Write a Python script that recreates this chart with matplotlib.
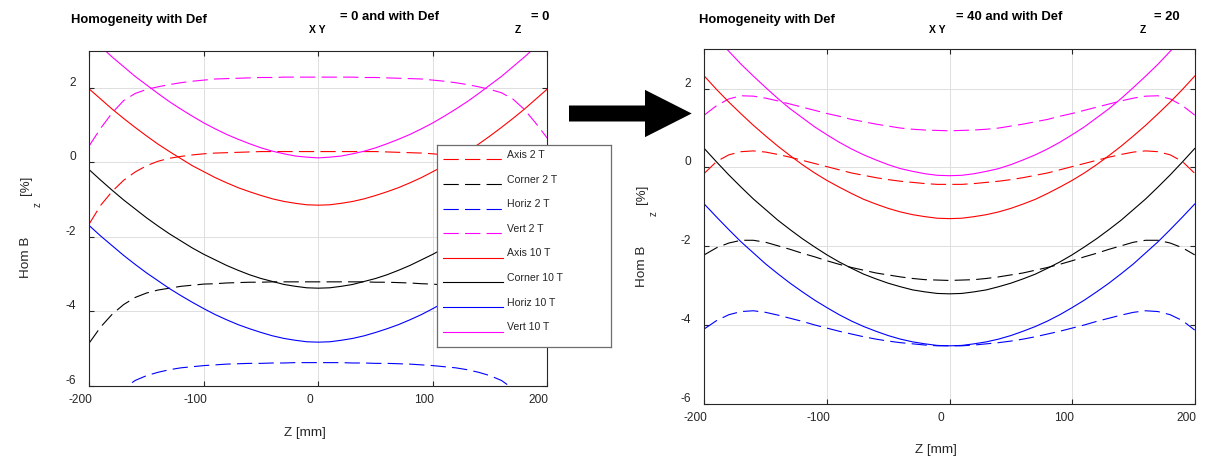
"""Field homogeneity along Z for 2 T and 10 T, before and after deformation."""
from __future__ import annotations

import matplotlib

matplotlib.use("Agg")
import matplotlib.pyplot as plt
from matplotlib.patches import FancyArrow
from matplotlib.transforms import ScaledTranslation

plt.rcParams["font.family"] = ["Liberation Sans", "DejaVu Sans"]
plt.rcParams["axes.unicode_minus"] = False
plt.rcParams["lines.scale_dashes"] = False

W, H, DPI = 1206, 457, 100
INK = "#262626"

Z_MM = [-200, -190, -180, -170, -160, -150, -140, -130, -120, -110, -100, -90, -80, -70, -60, -50,
        -40, -30, -20, -10, 0, 10, 20, 30, 40, 50, 60, 70, 80, 90, 100, 110, 120, 130, 140, 150,
        160, 170, 180, 190, 200]
X_TICKS = [-200, -100, 0, 100, 200]
Y_TICKS = [-6, -4, -2, 0, 2]

LABELS = ["Axis 2 T", "Corner 2 T", "Horiz 2 T", "Vert 2 T",
          "Axis 10 T", "Corner 10 T", "Horiz 10 T", "Vert 10 T"]
COLORS = ["#ff0000", "#000000", "#0000ff", "#ff00ff"] * 2
DASHED = [True] * 4 + [False] * 4

# Def_XY = 0, Def_Z = 0
AXIS_2T_A = [-1.65, -1.15, -0.78, -0.48, -0.26, -0.09, 0.03, 0.11, 0.16, 0.20, 0.23, 0.25, 0.26, 0.27,
             0.28, 0.29, 0.29, 0.29, 0.29, 0.29, 0.29, 0.29, 0.29, 0.29, 0.29, 0.29, 0.28, 0.27,
             0.26, 0.25, 0.23, 0.20, 0.16, 0.11, 0.03, -0.09, -0.26, -0.48, -0.78, -1.15, -1.65]
CORNER_2T_A = [-4.85, -4.42, -4.08, -3.82, -3.63, -3.51, -3.43, -3.38, -3.33, -3.30, -3.27, -3.26, -3.24,
               -3.23, -3.22, -3.22, -3.21, -3.21, -3.21, -3.21, -3.21, -3.21, -3.21, -3.21, -3.21, -3.22,
               -3.22, -3.23, -3.24, -3.26, -3.27, -3.30, -3.33, -3.38, -3.43, -3.51, -3.63, -3.82,
               -4.08, -4.42, -4.85]
HORIZ_2T_A = [-7.20, -6.75, -6.38, -6.08, -5.86, -5.73, -5.64, -5.57, -5.52, -5.49, -5.46, -5.44, -5.42,
              -5.41, -5.40, -5.40, -5.39, -5.39, -5.38, -5.38, -5.38, -5.38, -5.38, -5.39, -5.39, -5.40,
              -5.40, -5.41, -5.42, -5.44, -5.46, -5.49, -5.52, -5.57, -5.64, -5.73, -5.86, -6.08,
              -6.38, -6.75, -7.20]
VERT_2T_A = [0.45, 0.92, 1.33, 1.66, 1.85, 1.96, 2.03, 2.09, 2.14, 2.18, 2.21, 2.24, 2.25, 2.26,
             2.27, 2.28, 2.28, 2.29, 2.29, 2.29, 2.29, 2.29, 2.29, 2.29, 2.28, 2.28, 2.27, 2.26,
             2.25, 2.24, 2.21, 2.18, 2.14, 2.09, 2.03, 1.96, 1.87, 1.70, 1.42, 1.05, 0.65]
AXIS_10T_A = [1.97, 1.70, 1.43, 1.18, 0.94, 0.71, 0.49, 0.29, 0.10, -0.09, -0.25, -0.41, -0.55, -0.68,
              -0.79, -0.89, -0.98, -1.05, -1.10, -1.14, -1.15, -1.14, -1.10, -1.05, -0.98, -0.89,
              -0.79, -0.68, -0.55, -0.41, -0.25, -0.09, 0.10, 0.29, 0.49, 0.71, 0.94, 1.18, 1.43,
              1.70, 1.97]
CORNER_10T_A = [-0.20, -0.48, -0.75, -1.01, -1.25, -1.49, -1.71, -1.92, -2.11, -2.30, -2.47, -2.62,
                -2.77, -2.90, -3.02, -3.12, -3.20, -3.28, -3.33, -3.37, -3.38, -3.37, -3.33, -3.28,
                -3.20, -3.12, -3.02, -2.90, -2.77, -2.62, -2.47, -2.30, -2.11, -1.92, -1.71, -1.49,
                -1.25, -1.01, -0.75, -0.48, -0.20]
HORIZ_10T_A = [-1.70, -1.98, -2.24, -2.50, -2.74, -2.97, -3.18, -3.39, -3.58, -3.76, -3.93, -4.09,
               -4.23, -4.36, -4.47, -4.57, -4.66, -4.73, -4.78, -4.82, -4.83, -4.82, -4.78, -4.73,
               -4.66, -4.57, -4.47, -4.36, -4.23, -4.09, -3.93, -3.76, -3.58, -3.39, -3.18, -2.97,
               -2.74, -2.50, -2.24, -1.98, -1.70]
VERT_10T_A = [3.40, 3.11, 2.83, 2.57, 2.31, 2.08, 1.85, 1.63, 1.43, 1.24, 1.06, 0.90, 0.75, 0.62,
              0.50, 0.39, 0.30, 0.23, 0.17, 0.14, 0.12, 0.14, 0.17, 0.23, 0.30, 0.39, 0.50, 0.62,
              0.75, 0.90, 1.06, 1.24, 1.43, 1.63, 1.85, 2.08, 2.31, 2.57, 2.83, 3.11, 3.40]

# Def_XY = 40, Def_Z = 20
AXIS_2T_B = [-0.15, 0.15, 0.32, 0.40, 0.42, 0.39, 0.33, 0.26, 0.18, 0.10, 0.02, -0.06, -0.14, -0.20,
             -0.26, -0.31, -0.35, -0.38, -0.41, -0.43, -0.43, -0.43, -0.41, -0.38, -0.35, -0.31,
             -0.26, -0.20, -0.14, -0.06, 0.02, 0.10, 0.18, 0.26, 0.33, 0.39, 0.42, 0.40, 0.32,
             0.15, -0.15]
CORNER_2T_B = [-2.22, -2.04, -1.92, -1.85, -1.85, -1.90, -1.99, -2.08, -2.18, -2.27, -2.37, -2.46,
               -2.54, -2.61, -2.68, -2.73, -2.78, -2.82, -2.85, -2.86, -2.87, -2.86, -2.85, -2.82,
               -2.78, -2.73, -2.68, -2.61, -2.54, -2.46, -2.37, -2.27, -2.18, -2.08, -1.99, -1.90,
               -1.85, -1.85, -1.92, -2.04, -2.22]
HORIZ_2T_B = [-4.10, -3.89, -3.74, -3.66, -3.64, -3.68, -3.75, -3.83, -3.91, -4.00, -4.08, -4.16,
              -4.23, -4.30, -4.36, -4.41, -4.45, -4.48, -4.51, -4.53, -4.53, -4.53, -4.51, -4.48,
              -4.45, -4.41, -4.36, -4.30, -4.23, -4.16, -4.08, -4.00, -3.91, -3.83, -3.75, -3.68,
              -3.64, -3.66, -3.74, -3.89, -4.13]
VERT_2T_B = [1.33, 1.57, 1.74, 1.82, 1.81, 1.76, 1.69, 1.61, 1.53, 1.45, 1.37, 1.30, 1.22, 1.16,
             1.10, 1.05, 1.00, 0.97, 0.95, 0.94, 0.93, 0.94, 0.95, 0.97, 1.00, 1.05, 1.10, 1.16,
             1.22, 1.30, 1.37, 1.45, 1.53, 1.61, 1.69, 1.76, 1.81, 1.82, 1.74, 1.57, 1.33]
AXIS_10T_B = [2.32, 1.98, 1.66, 1.36, 1.07, 0.80, 0.54, 0.30, 0.07, -0.14, -0.33, -0.50, -0.66, -0.81,
              -0.93, -1.04, -1.13, -1.20, -1.25, -1.29, -1.30, -1.29, -1.25, -1.20, -1.13, -1.04,
              -0.93, -0.81, -0.66, -0.50, -0.33, -0.14, 0.07, 0.30, 0.54, 0.80, 1.07, 1.36, 1.66,
              1.98, 2.32]
CORNER_10T_B = [0.48, 0.14, -0.19, -0.50, -0.80, -1.07, -1.34, -1.58, -1.81, -2.02, -2.22, -2.40,
                -2.56, -2.71, -2.83, -2.94, -3.03, -3.11, -3.16, -3.20, -3.21, -3.20, -3.16, -3.11,
                -3.03, -2.94, -2.83, -2.71, -2.56, -2.40, -2.22, -2.02, -1.81, -1.58, -1.34, -1.07,
                -0.80, -0.50, -0.19, 0.14, 0.48]
HORIZ_10T_B = [-0.93, -1.26, -1.58, -1.89, -2.17, -2.45, -2.70, -2.94, -3.16, -3.37, -3.56, -3.74,
               -3.90, -4.04, -4.16, -4.27, -4.36, -4.43, -4.48, -4.52, -4.53, -4.52, -4.48, -4.43,
               -4.36, -4.27, -4.16, -4.04, -3.90, -3.74, -3.56, -3.37, -3.16, -2.94, -2.70, -2.45,
               -2.17, -1.89, -1.58, -1.26, -0.93]
VERT_10T_B = [3.65, 3.29, 2.95, 2.62, 2.32, 2.03, 1.75, 1.49, 1.26, 1.03, 0.83, 0.64, 0.47, 0.32,
              0.19, 0.07, -0.03, -0.10, -0.16, -0.20, -0.21, -0.20, -0.16, -0.10, -0.03, 0.07,
              0.19, 0.32, 0.47, 0.64, 0.83, 1.03, 1.26, 1.49, 1.75, 2.03, 2.32, 2.62, 2.95, 3.29,
              3.65]

CASE_A = [AXIS_2T_A, CORNER_2T_A, HORIZ_2T_A, VERT_2T_A, AXIS_10T_A, CORNER_10T_A, HORIZ_10T_A, VERT_10T_A]
CASE_B = [AXIS_2T_B, CORNER_2T_B, HORIZ_2T_B, VERT_2T_B, AXIS_10T_B, CORNER_10T_B, HORIZ_10T_B, VERT_10T_B]

DASH = (11, 4.5)
LW = 0.8


def px_box(x0: float, y0: float, x1: float, y1: float) -> list[float]:
    """Pixel box (top-left origin) -> figure fraction rect."""
    return [x0 / W, 1 - y1 / H, (x1 - x0) / W, (y1 - y0) / H]


def draw_panel(fig, rect, series) -> plt.Axes:
    ax = fig.add_axes(rect)
    for vals, color, dashed in zip(series, COLORS, DASHED):
        line, = ax.plot(Z_MM, vals, color=color, lw=LW)
        if dashed:
            line.set_dashes(DASH)
    ax.set_xlim(-200, 200)
    ax.set_ylim(-6, 3)
    ax.set_xticks(X_TICKS)
    ax.set_yticks(Y_TICKS)
    ax.grid(True, color="#dedede", lw=0.7)
    ax.set_axisbelow(True)
    ax.tick_params(direction="in", length=3.5, width=0.8, color=INK, labelcolor=INK,
                   labelsize=8.6, top=True, right=True)
    ax.tick_params(axis="x", pad=6.0)
    ax.tick_params(axis="y", pad=9.5)
    for sp in ax.spines.values():
        sp.set_color(INK)
        sp.set_linewidth(0.8)

    # tick labels sit a little left / above their ticks
    dx = ScaledTranslation(-8.5 / DPI, 0, fig.dpi_scale_trans)
    dy = ScaledTranslation(0, 6.5 / DPI, fig.dpi_scale_trans)
    for lab in ax.get_xticklabels():
        lab.set_transform(lab.get_transform() + dx)
    for lab in ax.get_yticklabels():
        lab.set_transform(lab.get_transform() + dy)
    return ax


def draw_legend(fig) -> None:
    x0, y0, x1, y1 = 437.3, 144.7, 610.7, 346.7
    lax = fig.add_axes(px_box(x0, y0, x1, y1))
    lax.set_xlim(0, x1 - x0)
    lax.set_ylim(y1 - y0, 0)
    lax.set_xticks([])
    lax.set_yticks([])
    lax.set_facecolor("white")
    for sp in lax.spines.values():
        sp.set_color("#6e6e6e")
        sp.set_linewidth(0.9)
    for i, (label, color, dashed) in enumerate(zip(LABELS, COLORS, DASHED)):
        y = 14.6 + 24.6 * i
        line, = lax.plot([6, 65.4], [y, y], color=color, lw=LW)
        if dashed:
            line.set_dashes(DASH)
        lax.text(70, y - 4.3, label, fontsize=7.6, color=INK, va="center", ha="left")


def title_parts(canvas, x_main, x_sub, x_mid, x_z, x_end, def_xy: str, def_z: str) -> None:
    bold = dict(fontweight="bold", color="black", va="baseline", ha="left")
    canvas.text(x_main, 23.5, "Homogeneity with Def", fontsize=9.4, **bold)
    canvas.text(x_sub, 33.0, "X Y", fontsize=7.5, **bold)
    canvas.text(x_mid, 19.5, f"= {def_xy} and with Def", fontsize=9.4, **bold)
    canvas.text(x_z, 33.0, "Z", fontsize=7.5, **bold)
    canvas.text(x_end, 19.5, f"= {def_z}", fontsize=9.4, **bold)


def axis_labels(canvas, x_y: float, y_hom: float, y_sub: float, y_pct: float,
                x_z: float, y_z: float) -> None:
    rot = dict(rotation=90, ha="center", va="center", color=INK)
    canvas.text(x_y, y_hom, "Hom B", fontsize=9.7, **rot)
    canvas.text(x_y + 12, y_sub, "z", fontsize=7.0, **rot)
    canvas.text(x_y, y_pct, "[%]", fontsize=9.5, **rot)
    canvas.text(x_z, y_z, "Z [mm]", fontsize=9.7, ha="center", va="center", color=INK)


def main() -> None:
    fig = plt.figure(figsize=(W / DPI, H / DPI), dpi=DPI)

    draw_panel(fig, px_box(89.3, 50.7, 547.3, 385.7), CASE_A)
    draw_panel(fig, px_box(704.3, 49.3, 1194.7, 403.7), CASE_B)
    draw_legend(fig)

    canvas = fig.add_axes([0, 0, 1, 1])
    canvas.set_xlim(0, W)
    canvas.set_ylim(H, 0)
    canvas.set_axis_off()

    title_parts(canvas, 71, 309, 340, 515, 531, "0", "0")
    title_parts(canvas, 699, 929, 956, 1140, 1154, "40", "20")
    axis_labels(canvas, 26, 257.5, 205, 185.7, 305, 433.3)
    axis_labels(canvas, 642, 266, 213.5, 194, 936, 450)

    canvas.add_patch(FancyArrow(569, 113.5, 122.7, 0, width=16, head_width=47.3,
                                head_length=46.7, length_includes_head=True,
                                color="black", lw=0))

    fig.savefig("out.png", dpi=DPI)
    plt.close(fig)


if __name__ == "__main__":
    main()
